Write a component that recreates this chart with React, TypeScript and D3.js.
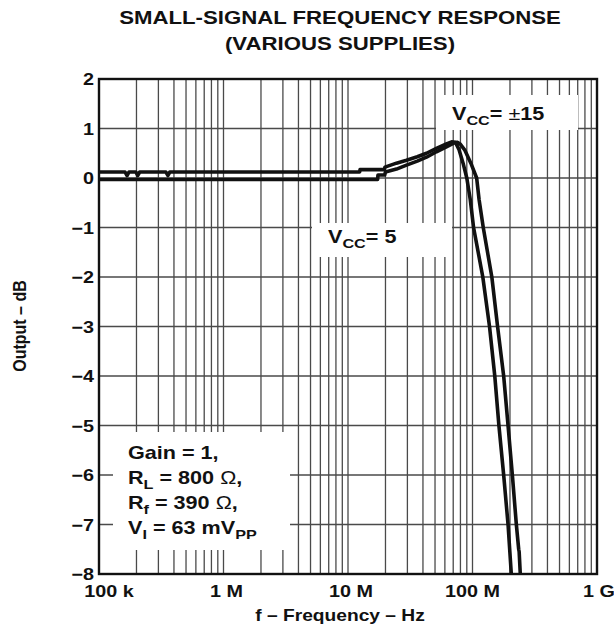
import React, { useEffect, useRef } from 'react';
import * as d3 from 'd3';

// VCC = 5 trace (left / upper one in the flat part)
const freqVcc5 = [
  1e5, 1.62e5, 1.68e5, 1.74e5, 1.98e5, 2.05e5, 2.12e5, 3.45e5, 3.58e5, 3.7e5, 12.4e6, 12.5e6, 19.6e6,
  19.8e6, 24.5e6, 29.5e6, 36e6, 42.7e6, 51.3e6, 61.7e6, 68e6, 73e6, 78e6, 84e6, 90e6, 96e6, 102e6,
  121e6, 137e6, 151e6, 163e6, 178e6, 193e6, 205e6,
];
const dbVcc5 = [
  0.12, 0.12, 0.05, 0.12, 0.12, 0.05, 0.12, 0.12, 0.05, 0.12, 0.12, 0.17, 0.17, 0.22, 0.3, 0.36, 0.43,
  0.5, 0.6, 0.69, 0.73, 0.72, 0.57, 0.3, 0, -0.44, -1, -2, -3, -4, -5, -6, -7, -8,
];

// VCC = +-15 trace
const freqVcc15 = [
  1e5, 17.3e6, 17.4e6, 19.7e6, 20e6, 24.5e6, 29.5e6, 36e6, 42.7e6, 51.3e6, 61.7e6, 70e6, 76e6, 80e6,
  86.5e6, 97e6, 108e6, 113e6, 122e6, 143e6, 159e6, 178e6, 193e6, 209e6, 225e6, 235e6, 237e6, 242e6,
];
const dbVcc15 = [
  -0.03, -0.03, 0.06, 0.06, 0.12, 0.18, 0.26, 0.34, 0.42, 0.53, 0.63, 0.7, 0.72, 0.68, 0.57, 0.3, 0,
  -0.44, -1, -2, -3, -4, -5, -6, -7, -7.5, -7.55, -8,
];

const yTicks = [2, 1, 0, -1, -2, -3, -4, -5, -6, -7, -8];
const xTicks = [1e5, 1e6, 1e7, 1e8, 1e9];
const xTickLabels = ['100 k', '1 M', '10 M', '100 M', '1 G'];

const FONT = '"Liberation Sans", Arial, Helvetica, sans-serif';
const SX = 1.2; // source text is a bit wide

type Part = { t: string; sub?: boolean; reg?: boolean };

function App() {
  const svgRef = useRef<SVGSVGElement>(null);

  useEffect(() => {
    const svg = d3.select(svgRef.current);
    svg.selectAll('*').remove();

    const width = 614,
      height = 631;
    const margin = { top: 79, right: 17, bottom: 57, left: 99 };

    const x = d3.scaleLog().domain([1e5, 1e9]).range([margin.left, width - margin.right]);
    const y = d3.scaleLinear().domain([-8, 2]).range([height - margin.bottom, margin.top]);
    const [x0, x1] = x.range();
    const [y0, y1] = y.range();

    const text = (px: number, py: number, size: number, anchor = 'start', extra = '') =>
      svg
        .append('text')
        .attr('transform', `translate(${px},${py}) scale(${SX},1)${extra}`)
        .attr('text-anchor', anchor)
        .attr('font-family', FONT)
        .attr('font-weight', 'bold')
        .attr('font-size', size)
        .attr('fill', '#111');

    const rich = (px: number, py: number, size: number, parts: Part[]) => {
      const t = text(px, py, size);
      let down = false;
      parts.forEach((p) => {
        const s = t.append('tspan').text(p.t);
        if (p.sub && !down) s.attr('dy', 5);
        if (!p.sub && down) s.attr('dy', -5);
        if (p.sub) s.attr('font-size', size * 0.75);
        if (p.reg) s.attr('font-weight', 'normal');
        down = !!p.sub;
      });
    };

    // grid
    const grid = svg.append('g').attr('stroke', '#4a4a4a').attr('stroke-width', 1.3);
    const minor: number[] = [];
    [1e5, 1e6, 1e7, 1e8].forEach((d) => {
      for (let k = 1; k <= 9; k++) if (d * k > 1e5) minor.push(d * k);
    });
    minor.forEach((f) => {
      grid.append('line').attr('x1', x(f)).attr('x2', x(f)).attr('y1', y1).attr('y2', y0);
    });
    yTicks.slice(1, -1).forEach((v) => {
      grid.append('line').attr('x1', x0).attr('x2', x1).attr('y1', y(v)).attr('y2', y(v));
    });

    // label boxes knock out the grid
    const boxes = [
      [436, 95, 142, 35],
      [312, 223, 140, 34],
      [113, 432, 177, 118],
    ];
    boxes.forEach(([bx, by, bw, bh]) => {
      svg.append('rect').attr('x', bx).attr('y', by).attr('width', bw).attr('height', bh).attr('fill', '#fff');
    });

    // traces
    const line = d3
      .line<[number, number]>()
      .x((d) => x(d[0]))
      .y((d) => y(d[1]));
    [
      [freqVcc5, dbVcc5],
      [freqVcc15, dbVcc15],
    ].forEach(([fs, ds]) => {
      svg
        .append('path')
        .attr('d', line(fs.map((f, i) => [f, ds[i]] as [number, number])))
        .attr('fill', 'none')
        .attr('stroke', '#111')
        .attr('stroke-width', 3.6)
        .attr('stroke-linejoin', 'round');
    });

    // frame
    svg
      .append('rect')
      .attr('x', x0)
      .attr('y', y1)
      .attr('width', x1 - x0)
      .attr('height', y0 - y1)
      .attr('fill', 'none')
      .attr('stroke', '#111')
      .attr('stroke-width', 2.4);

    // y tick labels
    yTicks.forEach((v) => {
      text(94, y(v) + 6, 16.5, 'end').text(v < 0 ? '\u2212' + Math.abs(v) : String(v));
    });

    // x tick labels
    const nudge = [10, 3, 3, 0, 2];
    xTicks.forEach((f, i) => {
      text(x(f) + nudge[i], 597, 16.5, 'middle').text(xTickLabels[i]);
    });

    // titles
    text(340, 24, 18.5, 'middle').text('SMALL-SIGNAL FREQUENCY RESPONSE');
    text(340, 50, 18.5, 'middle').text('(VARIOUS SUPPLIES)');
    text(340, 621, 16, 'middle').text('f \u2013 Frequency \u2013 Hz');
    svg
      .append('text')
      .attr('transform', `translate(26,326) scale(${SX},1) rotate(-90)`)
      .attr('text-anchor', 'middle')
      .attr('font-family', FONT)
      .attr('font-weight', 'bold')
      .attr('font-size', 16)
      .attr('fill', '#111')
      .text('Output \u2013 dB');

    // annotations
    rich(452, 120, 18, [{ t: 'V' }, { t: 'CC', sub: true }, { t: '= ' }, { t: '\u00b1', reg: true }, { t: '15' }]);
    rich(328, 243, 18, [{ t: 'V' }, { t: 'CC', sub: true }, { t: '= 5' }]);
    rich(128, 459, 18, [{ t: 'Gain = 1,' }]);
    rich(128, 484, 18, [{ t: 'R' }, { t: 'L', sub: true }, { t: ' = 800 ' }, { t: '\u03a9', reg: true }, { t: ',' }]);
    rich(128, 509, 18, [{ t: 'R' }, { t: 'f', sub: true }, { t: ' = 390 ' }, { t: '\u03a9', reg: true }, { t: ',' }]);
    rich(128, 534, 18, [{ t: 'V' }, { t: 'I', sub: true }, { t: ' = 63 mV' }, { t: 'PP', sub: true }]);
  }, []);

  return (
    <svg
      ref={svgRef}
      width={614}
      height={631}
      style={{ position: 'absolute', left: 0, top: 0, background: '#fff' }}
    />
  );
}

export default App;
